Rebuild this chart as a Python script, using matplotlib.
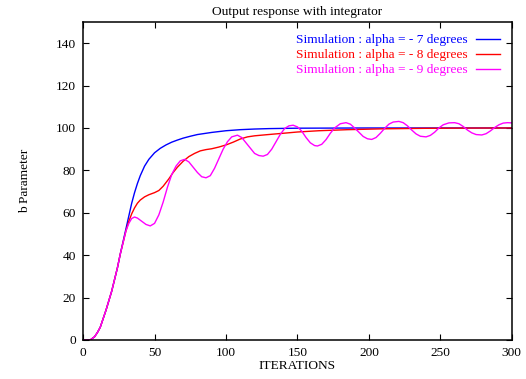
import matplotlib
matplotlib.use('Agg')
import matplotlib.pyplot as plt

plt.rcParams['font.family'] = ['Liberation Serif', 'DejaVu Serif']

# alpha = -7 degrees
iter_blue = [0, 5, 8, 10, 12, 14, 16, 18, 20, 22, 24, 26, 28, 30, 32, 34, 36, 38, 40,
             43, 46, 50, 54, 58, 62, 66, 70, 75, 80, 90, 100, 110, 120, 130, 150,
             200, 250, 300]
b_blue = [0, 0, 1.5, 3.5, 6, 10, 14, 18.5, 23, 28.5, 34, 40.5, 46.5, 52.5, 58.5, 64.5,
          69.5, 73.8, 77.5, 82, 85.2, 88.3, 90.4, 92, 93.3, 94.3, 95.2, 96.1, 96.9,
          97.9, 98.7, 99.2, 99.5, 99.7, 99.9, 100, 100, 100]

# alpha = -8 degrees
iter_red = [0, 5, 8, 10, 12, 14, 16, 18, 20, 22, 24, 26, 28, 30, 32, 34, 36, 38, 40,
            43, 46, 50, 53, 56, 60, 63, 66, 70, 74, 78, 82, 86, 90, 95, 100, 105, 110,
            115, 120, 128, 140, 150, 165, 185, 210, 240, 270, 300]
b_red = [0, 0, 1.5, 3.5, 6, 10, 14, 18.5, 23, 28.5, 34, 40.5, 46, 51.5, 56, 59.5, 62.3,
         64.5, 66, 67.5, 68.5, 69.5, 70.5, 72.5, 76, 79, 81.5, 84.3, 86.5, 88, 89.2,
         89.8, 90.2, 91, 92, 93.3, 94.8, 95.8, 96.3, 96.8, 97.5, 98.1, 98.7, 99.2,
         99.6, 99.85, 99.95, 100]

# alpha = -9 degrees
iter_mag = [0, 5, 8, 10, 12, 14, 16, 18, 20, 22, 24, 26, 28, 30, 32, 34, 36, 38, 41,
            44, 47, 50, 53, 56, 59, 62, 65, 68, 71, 74, 77, 80, 83, 86, 89, 92, 95, 98,
            101, 104, 108, 111, 114, 117, 120, 123, 126, 129, 132, 135, 138, 141, 144,
            147, 150, 153, 156, 159, 162, 164, 167, 170, 173, 176, 180, 184, 187, 190,
            193, 196, 199, 202, 205, 208, 211, 214, 217, 221, 224, 227, 230, 233, 236,
            240, 243, 246, 249, 252, 256, 260, 263, 266, 269, 272, 275, 279, 282, 285,
            288, 291, 294, 297, 300]
b_mag = [0, 0, 1.5, 3.5, 6, 10, 14, 18.5, 23, 28.5, 34, 40.5, 46, 51.5, 55, 57.3, 58,
         57.5, 56, 54.5, 53.8, 55, 59, 65, 72, 78, 82, 84.5, 85.2, 84, 81.5, 79, 77,
         76.5, 77.5, 81, 85.5, 90, 93.5, 95.8, 96.6, 95.5, 93, 90.5, 88, 87, 86.7,
         87.5, 90, 93.5, 97, 99.7, 101, 101.3, 100.5, 98.5, 95.5, 93, 91.7, 91.5, 92.3,
         94.5, 97.5, 100, 102, 102.5, 101.8, 100, 98, 96, 94.9, 94.6, 95.5, 97.5, 99.8,
         101.8, 102.8, 103.1, 102.5, 101, 99, 97.2, 96.1, 95.8, 96.5, 98, 100, 101.5,
         102.4, 102.5, 102, 100.7, 99, 97.7, 96.9, 96.7, 97.3, 98.6, 100.2, 101.5,
         102.3, 102.5, 102.4]

x_ticks = [0, 50, 100, 150, 200, 250, 300]
y_ticks = [0, 20, 40, 60, 80, 100, 120, 140]

fs = 9.6

fig = plt.figure(figsize=(5.26, 3.79), dpi=100)
ax = fig.add_axes([0.158, 0.103, 0.815, 0.839])

ax.plot(iter_blue, b_blue, color='#0000ff', lw=1.0,
        label='Simulation : alpha = - 7 degrees')
ax.plot(iter_red, b_red, color='#ff0000', lw=1.0,
        label='Simulation : alpha = - 8 degrees')
ax.plot(iter_mag, b_mag, color='#ff00ff', lw=1.0,
        label='Simulation : alpha = - 9 degrees')

ax.set_xlim(0, 300)
ax.set_ylim(0, 150)
ax.set_xticks(x_ticks)
ax.set_yticks(y_ticks)
ax.tick_params(direction='in', top=True, right=True, length=4.5, width=0.8,
               labelsize=fs, pad=5)
for s in ax.spines.values():
    s.set_linewidth(1.1)

ax.set_title('Output response with integrator', fontsize=fs, pad=5)
ax.set_xlabel('ITERATIONS', fontsize=fs, labelpad=1)
ax.set_ylabel('b Parameter', fontsize=fs, labelpad=18)

ax.legend(loc='upper right', frameon=False, markerfirst=False, labelcolor='linecolor',
          fontsize=fs, handlelength=1.75, handletextpad=0.7, labelspacing=0.2,
          borderaxespad=0.5, bbox_to_anchor=(1.0, 1.0))

fig.savefig('out.png', dpi=100)
